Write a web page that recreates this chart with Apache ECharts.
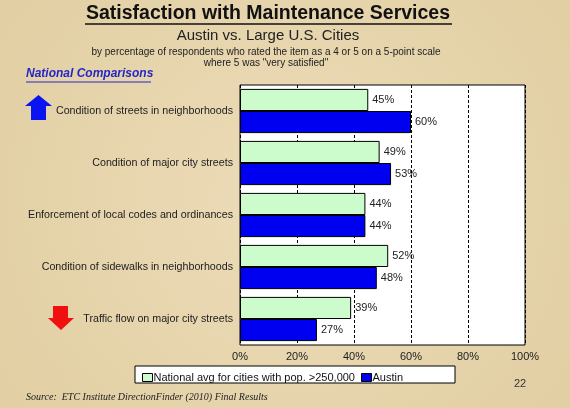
<!DOCTYPE html>
<html>
<head>
<meta charset="UTF-8">
<title>Satisfaction with Maintenance Services</title>
<script src="https://cdn.jsdelivr.net/npm/echarts@6/dist/echarts.min.js"></script>
<style>
  html, body { margin: 0; padding: 0; }
  body { background: #e7d7b0; }
  #main { width: 570px; height: 408px; }
</style>
</head>
<body>
<div id="main"></div>
<script>
// 数据
var categories = [
  'Condition of streets in neighborhoods',
  'Condition of major city streets',
  'Enforcement of local codes and ordinances',
  'Condition of sidewalks in neighborhoods',
  'Traffic flow on major city streets'
];
var nationalAvg = [45, 49, 44, 52, 39];
var austin = [60, 53, 44, 48, 27];
var xTicks = [0, 20, 40, 60, 80, 100];

var chart = echarts.init(document.getElementById('main'));
var font = 'Liberation Sans, Arial, sans-serif';

var option = {
  backgroundColor: {
    type: 'radial', x: 0.5, y: 0.5, r: 0.8,
    colorStops: [{ offset: 0, color: '#ecdcb8' }, { offset: 1, color: '#e2cfa4' }]
  },
  animation: false,
  grid: {
    left: 240, right: 45, top: 85, bottom: 63,
    show: true, backgroundColor: '#fff', borderColor: '#000', borderWidth: 1
  },
  xAxis: {
    type: 'value',
    min: xTicks[0], max: xTicks[xTicks.length - 1], interval: 20,
    axisLine: { show: false },
    axisTick: { show: false },
    axisLabel: { formatter: '{value}%', color: '#222', fontFamily: font, fontSize: 11, margin: 6 },
    splitLine: { show: true, lineStyle: { color: '#000', type: [3, 2], width: 1 } }
  },
  yAxis: {
    type: 'category',
    data: categories,
    inverse: true,
    axisLine: { show: false },
    axisTick: { show: false },
    axisLabel: { color: '#222', fontFamily: font, fontSize: 10.7, margin: 7 }
  },
  legend: {
    left: 137, top: 367,
    icon: 'rect',
    itemWidth: 10, itemHeight: 8, itemGap: 6,
    itemStyle: { borderWidth: 1 },
    textStyle: { fontFamily: font, fontSize: 11, color: '#111', padding: [0, 0, 0, -4] },
    data: ['National avg for cities with pop. >250,000', 'Austin']
  },
  series: [
    {
      name: 'National avg for cities with pop. >250,000',
      type: 'bar',
      data: nationalAvg,
      barGap: '0%',
      barCategoryGap: '15%',
      itemStyle: { color: '#ccfccc', borderColor: '#000', borderWidth: 1 },
      label: { show: true, position: 'right', formatter: '{c}%', color: '#222', fontFamily: font, fontSize: 11, distance: 4 }
    },
    {
      name: 'Austin',
      type: 'bar',
      data: austin,
      barGap: '0%',
      barCategoryGap: '15%',
      itemStyle: { color: '#0000f0', borderColor: '#000', borderWidth: 1 },
      label: { show: true, position: 'right', formatter: '{c}%', color: '#222', fontFamily: font, fontSize: 11, distance: 4 }
    }
  ],
  graphic: [
    // 标题
    { type: 'text', x: 268, y: 4, style: { text: 'Satisfaction with Maintenance Services', align: 'center', font: 'bold 19.5px ' + font, fill: '#111' } },
    { type: 'line', shape: { x1: 85, y1: 24, x2: 452, y2: 24 }, style: { stroke: '#111', lineWidth: 1.5 } },
    { type: 'text', x: 268, y: 28, style: { text: 'Austin vs. Large U.S. Cities', align: 'center', font: '15px ' + font, fill: '#222' } },
    { type: 'text', x: 266, y: 47, style: { text: 'by percentage of respondents who rated the item as a 4 or 5 on a 5-point scale', align: 'center', font: '10px ' + font, fill: '#222' } },
    { type: 'text', x: 266, y: 58, style: { text: 'where 5 was "very satisfied"', align: 'center', font: '10px ' + font, fill: '#222' } },
    { type: 'text', left: 26, top: 68, style: { text: 'National Comparisons', font: 'italic bold 12px ' + font, fill: '#2626c8' } },
    { type: 'line', shape: { x1: 26, y1: 82, x2: 151, y2: 82 }, style: { stroke: '#2626c8', lineWidth: 1 } },
    // 箭头
    { type: 'polygon', shape: { points: [[38.5, 95], [52, 106], [46, 106], [46, 120], [31, 120], [31, 106], [25, 106]] }, style: { fill: '#0a14f0' } },
    { type: 'polygon', shape: { points: [[53, 306], [68, 306], [68, 318], [74, 318], [61, 330], [48, 318], [53, 318]] }, style: { fill: '#f01010' } },
    // 图例框
    { type: 'rect', z: -1, shape: { x: 135, y: 366, width: 320, height: 17 }, style: { fill: '#fff', stroke: '#000', lineWidth: 1 } },
    { type: 'text', left: 514, top: 378, style: { text: '22', font: '11px ' + font, fill: '#333' } },
    { type: 'text', left: 26, top: 392, style: { text: 'Source:  ETC Institute DirectionFinder (2010) Final Results', font: 'italic 10px Liberation Serif, serif', fill: '#222' } }
  ]
};

chart.setOption(option);
</script>
</body>
</html>
